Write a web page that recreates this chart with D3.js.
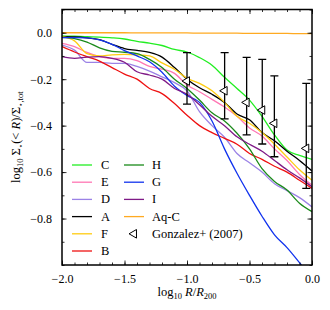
<!DOCTYPE html>
<html>
<head>
<meta charset="utf-8">
<script src="https://cdn.jsdelivr.net/npm/d3@7"></script>
<style>
  body { margin: 0; background: #fff; }
  text { font-family: 'Liberation Serif', 'DejaVu Serif', serif; }
</style>
</head>
<body>
<div id="chart"></div>
<script>
// log10 R/R200 sample points
const logR = [-2.0, -1.9, -1.8, -1.7, -1.6, -1.5, -1.4, -1.3, -1.2, -1.1, -1.0,
              -0.9, -0.8, -0.7, -0.6, -0.5, -0.4, -0.3, -0.2, -0.1, 0.0];

// log10 Sigma*(<R)/Sigma*,tot for each halo
const haloC = [-0.014, -0.015, -0.017, -0.019, -0.022, -0.027, -0.037, -0.045, -0.055, -0.072, -0.083,
               -0.107, -0.14, -0.192, -0.24, -0.29, -0.36, -0.44, -0.505, -0.528, -0.545];
const haloE = [-0.046, -0.06, -0.085, -0.103, -0.11, -0.11, -0.12, -0.145, -0.157, -0.175, -0.225,
               -0.254, -0.287, -0.32, -0.36, -0.41, -0.445, -0.5, -0.55, -0.61, -0.656];
const haloD = [-0.053, -0.075, -0.128, -0.128, -0.132, -0.132, -0.145, -0.165, -0.19, -0.215, -0.25,
               -0.34, -0.4, -0.45, -0.52, -0.56, -0.6, -0.65, -0.68, -0.71, -0.75];
const haloA = [-0.017, -0.018, -0.022, -0.03, -0.05, -0.068, -0.076, -0.085, -0.105, -0.15, -0.2,
               -0.237, -0.265, -0.3, -0.35, -0.375, -0.43, -0.465, -0.51, -0.55, -0.595];
const haloF = [-0.017, -0.035, -0.09, -0.1, -0.095, -0.093, -0.095, -0.1, -0.13, -0.157, -0.196,
               -0.218, -0.25, -0.3, -0.36, -0.39, -0.43, -0.48, -0.535, -0.59, -0.635];
const haloB = [-0.06, -0.083, -0.103, -0.122, -0.15, -0.178, -0.2, -0.24, -0.262, -0.305, -0.355,
               -0.4, -0.43, -0.455, -0.48, -0.52, -0.545, -0.575, -0.6, -0.635, -0.67];
const haloH = [-0.02, -0.025, -0.04, -0.065, -0.08, -0.084, -0.09, -0.115, -0.15, -0.2, -0.24,
               -0.29, -0.345, -0.38, -0.433, -0.5, -0.585, -0.64, -0.677, -0.734, -0.77];
const haloG = [-0.021, -0.021, -0.022, -0.031, -0.05, -0.077, -0.1, -0.125, -0.17, -0.23, -0.27,
               -0.3, -0.38, -0.5, -0.605, -0.7, -0.79, -0.87, -0.925, -0.99, -1.06];
const haloI = [-0.103, -0.11, -0.105, -0.103, -0.11, -0.127, -0.168, -0.182, -0.2, -0.24, -0.265,
               -0.31, -0.36, -0.4, -0.448, -0.48, -0.51, -0.55, -0.59, -0.625, -0.663];
const haloAqC = [0.0, 0.0, 0.0, 0.0, 0.0, 0.0, -0.001, -0.001, -0.001, -0.001, -0.001,
                 -0.002, -0.002, -0.002, -0.002, -0.003, -0.003, -0.003, -0.003, -0.004, -0.004];

// Gonzalez+ (2007) points
const gonzR = [0.1, 0.2, 0.3, 0.4, 0.5, 0.9];
const gonzY = [-0.208, -0.25, -0.30, -0.333, -0.39, -0.498];
const gonzLo = [-0.307, -0.371, -0.44, -0.479, -0.534, -0.67];
const gonzHi = [-0.086, -0.086, -0.106, -0.115, -0.186, -0.218];

const xTicks = [-2.0, -1.5, -1.0, -0.5, 0.0];
const yTicks = [0.0, -0.2, -0.4, -0.6, -0.8];

const series = [
  { name: 'C', vals: haloC, color: '#22ee22' },
  { name: 'E', vals: haloE, color: '#ff77b4' },
  { name: 'D', vals: haloD, color: '#9b82e6' },
  { name: 'A', vals: haloA, color: '#000000' },
  { name: 'F', vals: haloF, color: '#ffcc11' },
  { name: 'B', vals: haloB, color: '#ee1111' },
  { name: 'H', vals: haloH, color: '#1a8a1a' },
  { name: 'G', vals: haloG, color: '#1133ee' },
  { name: 'I', vals: haloI, color: '#7f1a87' },
  { name: 'Aq-C', vals: haloAqC, color: '#ffaa22' }
];

const W = 330, H = 310;
const m = { left: 62, right: 18, top: 9.5, bottom: 45 };

const svg = d3.select('#chart').append('svg')
  .attr('width', W).attr('height', H);

const x = d3.scaleLinear().domain([-2.0, 0.0]).range([m.left, W - m.right]);
const y = d3.scaleLinear().domain([-1.0, 0.1]).range([H - m.bottom, m.top]);

svg.append('clipPath').attr('id', 'clip')
  .append('rect')
  .attr('x', m.left).attr('y', m.top)
  .attr('width', W - m.left - m.right).attr('height', H - m.top - m.bottom);

const plot = svg.append('g').attr('clip-path', 'url(#clip)');

const line = d3.line()
  .x((d, i) => x(logR[i]))
  .y(d => y(d))
  .curve(d3.curveMonotoneX);

plot.selectAll('path.halo')
  .data(series)
  .enter()
  .append('path')
  .attr('class', 'halo')
  .attr('fill', 'none')
  .attr('stroke', d => d.color)
  .attr('stroke-width', 1.3)
  .attr('d', d => line(d.vals));

// error bars
const gonz = gonzR.map((r, i) => ({ x: Math.log10(r), y: gonzY[i], lo: gonzLo[i], hi: gonzHi[i] }));
const eb = plot.selectAll('g.eb').data(gonz).enter().append('g').attr('class', 'eb');
eb.append('line')
  .attr('x1', d => x(d.x)).attr('x2', d => x(d.x))
  .attr('y1', d => y(d.lo)).attr('y2', d => y(d.hi))
  .attr('stroke', '#000').attr('stroke-width', 1.3);
['lo', 'hi'].forEach(k => {
  eb.append('line')
    .attr('x1', d => x(d.x) - 4).attr('x2', d => x(d.x) + 4)
    .attr('y1', d => y(d[k])).attr('y2', d => y(d[k]))
    .attr('stroke', '#000').attr('stroke-width', 1.3);
});
const tri = d3.symbol().type(d3.symbolTriangle).size(32);
eb.append('path')
  .attr('d', tri)
  .attr('transform', d => `translate(${x(d.x)},${y(d.y)}) rotate(-90)`)
  .attr('fill', '#fff').attr('stroke', '#000').attr('stroke-width', 1);

// axes with inward ticks
const fmt = d3.format('.1f');
const xMinor = d3.range(-20, 1).map(v => v / 10);
const yMinor = d3.range(-10, 2).map(v => v / 10);

svg.append('g').attr('transform', `translate(0,${H - m.bottom})`)
  .call(d3.axisBottom(x).tickValues(xMinor).tickSize(-2.5).tickFormat(''));
svg.append('g').attr('transform', `translate(0,${H - m.bottom})`)
  .call(d3.axisBottom(x).tickValues(xTicks).tickSize(-4.5).tickPadding(9).tickFormat(fmt));
svg.append('g').attr('transform', `translate(0,${m.top})`)
  .call(d3.axisTop(x).tickValues(xMinor).tickSize(-2.5).tickFormat(''));
svg.append('g').attr('transform', `translate(0,${m.top})`)
  .call(d3.axisTop(x).tickValues(xTicks).tickSize(-4.5).tickFormat(''));

svg.append('g').attr('transform', `translate(${m.left},0)`)
  .call(d3.axisLeft(y).tickValues(yMinor).tickSize(-2.5).tickFormat(''));
svg.append('g').attr('transform', `translate(${m.left},0)`)
  .call(d3.axisLeft(y).tickValues(yTicks).tickSize(-4.5).tickPadding(10).tickFormat(fmt));
svg.append('g').attr('transform', `translate(${W - m.right},0)`)
  .call(d3.axisRight(y).tickValues(yMinor).tickSize(-2.5).tickFormat(''));
svg.append('g').attr('transform', `translate(${W - m.right},0)`)
  .call(d3.axisRight(y).tickValues(yTicks).tickSize(-4.5).tickFormat(''));

svg.selectAll('.domain').remove();
svg.selectAll('.tick line').attr('stroke', '#000').attr('stroke-width', 0.8);
svg.selectAll('.tick text')
  .attr('fill', '#000').attr('font-size', 12)
  .attr('font-family', "'Liberation Serif', serif");

svg.append('rect')
  .attr('x', m.left).attr('y', m.top)
  .attr('width', W - m.left - m.right).attr('height', H - m.top - m.bottom)
  .attr('fill', 'none').attr('stroke', '#000').attr('stroke-width', 1.5);

// rich text helper
function rich(sel, parts) {
  let shift = 0;
  parts.forEach(p => {
    const ts = sel.append('tspan').text(p.t);
    const target = p.sub ? 3 : 0;
    if (target !== shift) { ts.attr('dy', target - shift); shift = target; }
    if (p.sub) ts.attr('font-size', 8.5);
    if (p.it) ts.attr('font-style', 'italic');
    if (p.sym) ts.attr('font-family', "'DejaVu Sans', sans-serif").attr('font-size', 7);
  });
}

const xl = svg.append('text')
  .attr('x', x(-1.0)).attr('y', 296)
  .attr('text-anchor', 'middle').attr('font-size', 12.5);
rich(xl, [{ t: 'log' }, { t: '10', sub: true }, { t: ' ' }, { t: 'R', it: true }, { t: '/' },
  { t: 'R', it: true }, { t: '200', sub: true }]);

const yl = svg.append('text')
  .attr('transform', `translate(20,${(m.top + H - m.bottom) / 2}) rotate(-90)`)
  .attr('text-anchor', 'middle').attr('font-size', 12.5);
rich(yl, [{ t: 'log' }, { t: '10', sub: true }, { t: ' Σ' }, { t: '⋆', sub: true, sym: true }, { t: '(< ' },
  { t: 'R', it: true }, { t: ')/Σ' }, { t: '⋆', sub: true, sym: true }, { t: ',tot', sub: true }]);

// legend
const legCols = [
  { lx: 72, tx: 101, items: ['C', 'E', 'D', 'A', 'F', 'B'] },
  { lx: 124, tx: 152, items: ['H', 'G', 'I', 'Aq-C', 'Gonzalez+ (2007)'] }
];
const rowY = 165, rowH = 17.2;
legCols.forEach(col => {
  col.items.forEach((nm, i) => {
    const yy = rowY + i * rowH;
    const s = series.find(d => d.name === nm);
    if (s) {
      svg.append('line')
        .attr('x1', col.lx).attr('x2', col.lx + 20)
        .attr('y1', yy).attr('y2', yy)
        .attr('stroke', s.color).attr('stroke-width', 1.3);
    } else {
      svg.append('path')
        .attr('d', tri)
        .attr('transform', `translate(${col.lx + 10},${yy}) rotate(-90)`)
        .attr('fill', '#fff').attr('stroke', '#000').attr('stroke-width', 1);
    }
    svg.append('text')
      .attr('x', col.tx).attr('y', yy + 4)
      .attr('font-size', 12.5)
      .text(nm);
  });
});
</script>
</body>
</html>
